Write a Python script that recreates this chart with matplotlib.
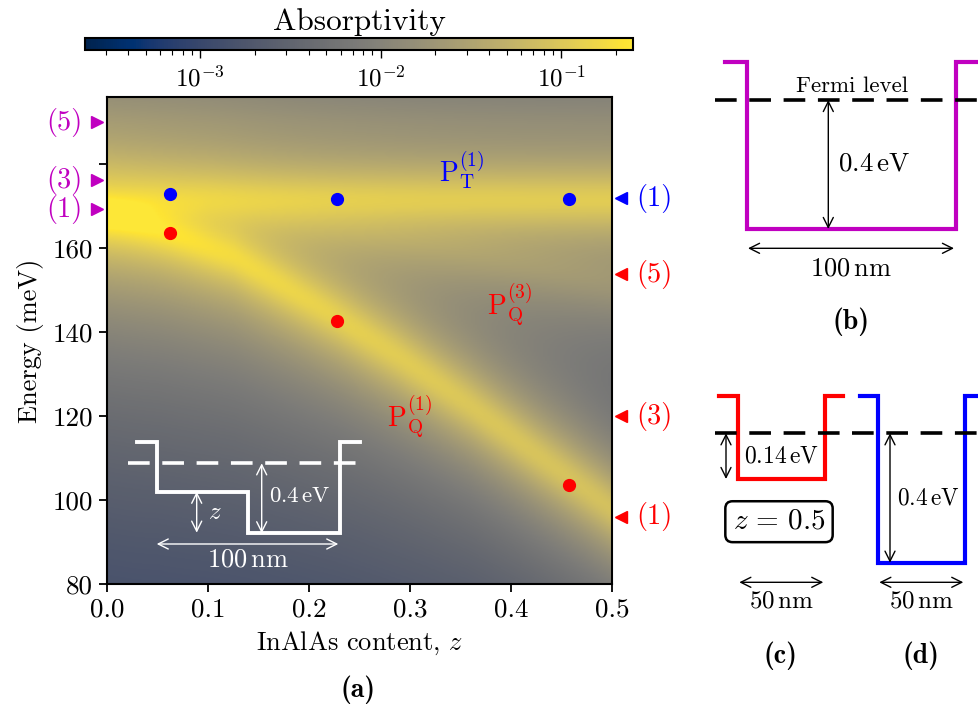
import numpy as np
import matplotlib
matplotlib.use("Agg")
import matplotlib.pyplot as plt
from matplotlib.colors import LogNorm

plt.rcParams['font.family'] = ['cmr10']
plt.rcParams['mathtext.fontset'] = 'cm'
plt.rcParams['axes.formatter.use_mathtext'] = True
plt.rcParams['axes.unicode_minus'] = False

# ---------------- data ----------------
# band centres (z, energy meV)
q1_z = [0.0, 0.0624, 0.125, 0.228, 0.287, 0.36, 0.425, 0.457, 0.5]
q1_E = [168.0, 163.5, 158.0, 143.5, 134.5, 122.5, 111.0, 105.5, 98.0]
q1_amp = [0.21, 0.19, 0.16, 0.125, 0.11, 0.095, 0.088, 0.085, 0.08]
q1_w = [4.2, 4.6, 5.0, 5.4, 5.6, 5.6, 5.6, 5.6, 5.6]
t1_z = [0.0, 0.05, 0.1, 0.3, 0.5]
t1_E = [168.5, 170.5, 171.5, 171.5, 171.5]
t1_amp = [0.19, 0.13, 0.115, 0.11, 0.11]
t1_w = [4.2, 5.0, 5.3, 5.3, 5.3]
q3_z = [0.0, 0.25, 0.5]
q3_E = [177.0, 165.0, 152.0]
q3_amp = [0.02, 0.016, 0.011]
t5_E = 190.0
t5_amp = 0.003
bg_E = [80, 196]
bg_logA = [-3.25, -2.5]

# simulated transition points
z_points = [0.0624, 0.228, 0.457]
E_T_points = [172.9, 171.6, 171.8]
E_Q_points = [163.6, 142.7, 103.5]

# transition energies of the simple wells
mag_E = [169.3, 176.2, 190.0]
mag_lab = ['(1)', '(3)', '(5)']
blue_E = [171.9]
blue_lab = ['(1)']
red_E = [96.0, 120.0, 153.8]
red_lab = ['(1)', '(3)', '(5)']

# ---------------- field ----------------
zg = np.linspace(0, 0.5, 251)
Eg = np.linspace(80, 196, 465)
Z, E = np.meshgrid(zg, Eg)

def lor(Ec, amp, g):
    return amp * g**2 / ((E - Ec)**2 + g**2)

A = 10 ** np.interp(E, bg_E, bg_logA)
A = A + lor(np.interp(Z, q1_z, q1_E), np.interp(Z, q1_z, q1_amp), np.interp(Z, q1_z, q1_w))
A = A + lor(np.interp(Z, t1_z, t1_E), np.interp(Z, t1_z, t1_amp), np.interp(Z, t1_z, t1_w))
A = A + lor(np.interp(Z, q3_z, q3_E), np.interp(Z, q3_z, q3_amp), 7.0)
A = A + lor(t5_E, t5_amp, 6.0)

W, H = 979, 715
fig = plt.figure(figsize=(W / 100, H / 100), dpi=100)

def fx(px):
    return px / W

def fy(py):
    return 1 - py / H

ax = fig.add_axes([fx(107), fy(584), fx(612) - fx(107), fy(97) - fy(584)])
norm = LogNorm(vmin=2.3e-4, vmax=0.25)
im = ax.imshow(A, extent=[0, 0.5, 80, 196], origin='lower', aspect='auto',
               cmap='cividis', norm=norm, interpolation='bilinear')
ax.set_xlim(0, 0.5)
ax.set_ylim(80, 196)
ax.set_xticks([0, 0.1, 0.2, 0.3, 0.4, 0.5])
ax.set_xticklabels(['0.0', '0.1', '0.2', '0.3', '0.4', '0.5'])
ax.set_yticks([80, 100, 120, 140, 160, 180])
ax.set_yticklabels(['80', '100', '120', '140', '160', ''])
ax.tick_params(labelsize=19.5, length=6, width=1.3, direction='out', pad=4)
for s in ax.spines.values():
    s.set_linewidth(1.5)
ax.set_xlabel(r'InAlAs content, $z$', fontsize=19, labelpad=6)
ax.set_ylabel('Energy (meV)', fontsize=19, labelpad=6)

ax.plot(z_points, E_T_points, 'o', color='#0000ff', ms=8.5, zorder=5)
ax.plot(z_points, E_Q_points, 'o', color='#ff0000', ms=8.5, zorder=5)

btrans = ax.get_yaxis_transform()
xl = -0.0204
xr = 1.0178
ax.plot([xl] * len(mag_E), mag_E, '>', color='#c000c0', ms=8, clip_on=False, transform=btrans)
for e, t in zip(mag_E, mag_lab):
    ax.text(-0.085, e, t, color='#c000c0', fontsize=20.5, ha='center', va='center', transform=btrans)
ax.plot([xr] * len(blue_E), blue_E, '<', color='#0000ff', ms=8, clip_on=False, transform=btrans)
for e, t in zip(blue_E, blue_lab):
    ax.text(1.083, e, t, color='#0000ff', fontsize=20.5, ha='center', va='center', transform=btrans)
ax.plot([xr] * len(red_E), red_E, '<', color='#ff0000', ms=8, clip_on=False, transform=btrans)
for e, t in zip(red_E, red_lab):
    ax.text(1.083, e, t, color='#ff0000', fontsize=20.5, ha='center', va='center', transform=btrans)

ax.text(0.351, 178.6, r'$\mathrm{P}_\mathrm{T}^{(1)}$', color='#0000ff', fontsize=20, ha='center', va='center')
ax.text(0.399, 146.4, r'$\mathrm{P}_\mathrm{Q}^{(3)}$', color='#ff0000', fontsize=20, ha='center', va='center')
ax.text(0.300, 119.8, r'$\mathrm{P}_\mathrm{Q}^{(1)}$', color='#ff0000', fontsize=20, ha='center', va='center')

# colorbar
cax = fig.add_axes([fx(85), fy(50), fx(633) - fx(85), fy(38) - fy(50)])
cb = fig.colorbar(im, cax=cax, orientation='horizontal')
cax.xaxis.set_ticks_position('bottom')
cax.tick_params(labelsize=18, length=6, width=1.0, pad=5)
cax.tick_params(which='minor', length=3.5, width=0.8)
cb.outline.set_linewidth(1.5)
cax.set_title('Absorptivity', fontsize=22.5, pad=6)

# ---------------- overlay schematics (pixel coordinates) ----------------
ov = fig.add_axes([0, 0, 1, 1], zorder=10)
ov.set_xlim(0, W)
ov.set_ylim(H, 0)
ov.axis('off')
ov.patch.set_alpha(0)

def arrow(x0, y0, x1, y1, color='k', lw=1.0):
    ov.annotate('', xy=(x1, y1), xytext=(x0, y0),
                arrowprops=dict(arrowstyle='<->', color=color, lw=lw,
                                shrinkA=0, shrinkB=0, mutation_scale=18))

# inset in (a)
wc = 'white'
ov.plot([136.7, 156.7, 156.7, 248.3, 248.3, 340, 340, 360],
        [441.7, 441.7, 491.7, 491.7, 533.3, 533.3, 441.7, 441.7],
        color=wc, lw=2.8, solid_joinstyle='miter')
ov.plot([128, 368], [463.3, 463.3], color=wc, lw=2.6, dashes=(6, 3.5))
arrow(196.7, 491.7, 196.7, 532.7, color=wc)
ov.text(215, 513, r'$z$', color=wc, fontsize=18, ha='center', va='center')
arrow(261.7, 463.3, 261.7, 533.3, color=wc)
ov.text(269, 496.7, r'$0.4\,\mathrm{eV}$', color=wc, fontsize=16.5, ha='left', va='center')
arrow(156.7, 544, 338.3, 544, color=wc)
ov.text(248, 560, r'$100\,\mathrm{nm}$', color=wc, fontsize=19, ha='center', va='center')

# panel (b)
mc = '#c000c0'
ov.plot([725, 747.3, 747.3, 955.7, 955.7, 976.7],
        [61.7, 61.7, 229, 229, 61.7, 61.7], color=mc, lw=3, solid_joinstyle='miter')
ov.plot([715, 979], [100, 100], color='k', lw=2.6, dashes=(6, 3.5))
ov.text(851.7, 86.7, 'Fermi level', fontsize=16.5, ha='center', va='center')
arrow(828.3, 100, 828.3, 229)
ov.text(838, 163.3, r'$0.4\,\mathrm{eV}$', fontsize=19.5, ha='left', va='center')
arrow(748, 248.3, 954, 248.3)
ov.text(851, 268.3, r'$100\,\mathrm{nm}$', fontsize=19, ha='center', va='center')
ov.text(851, 321.7, '(b)', fontsize=20, family='cmb10', ha='center', va='center')

# panel (c)
rc = '#ff0000'
ov.plot([719.3, 737.7, 737.7, 825, 825, 843.3],
        [395.7, 395.7, 479, 479, 395.7, 395.7], color=rc, lw=3, solid_joinstyle='miter')
ov.plot([715, 848], [433.3, 433.3], color='k', lw=2.6, dashes=(6, 3.5))
arrow(726, 433.3, 726, 479)
ov.text(744, 456.7, r'$0.14\,\mathrm{eV}$', fontsize=17, ha='left', va='center')
ov.text(779, 521.7, r'$z\,=\,0.5$', fontsize=21, ha='center', va='center',
        bbox=dict(boxstyle='round,pad=0.25', fc='white', ec='k', lw=1.8))
arrow(739.3, 582.3, 823.3, 582.3)
ov.text(781, 601, r'$50\,\mathrm{nm}$', fontsize=18, ha='center', va='center')
ov.text(780.7, 656, '(c)', fontsize=20, family='cmb10', ha='center', va='center')

# panel (d)
bc = '#0000ff'
ov.plot([860, 878.3, 878.3, 965, 965, 979],
        [395.7, 395.7, 562.7, 562.7, 395.7, 395.7], color=bc, lw=3, solid_joinstyle='miter')
ov.plot([852, 979], [433.3, 433.3], color='k', lw=2.6, dashes=(6, 3.5))
arrow(890, 433.3, 890, 562.7)
ov.text(897, 498.3, r'$0.4\,\mathrm{eV}$', fontsize=16.8, ha='left', va='center')
arrow(879.3, 582.3, 963.3, 582.3)
ov.text(921, 601, r'$50\,\mathrm{nm}$', fontsize=18, ha='center', va='center')
ov.text(921, 656, '(d)', fontsize=20, family='cmb10', ha='center', va='center')

ov.text(358, 690, '(a)', fontsize=20, family='cmb10', ha='center', va='center')

fig.savefig('out.png', dpi=100)
